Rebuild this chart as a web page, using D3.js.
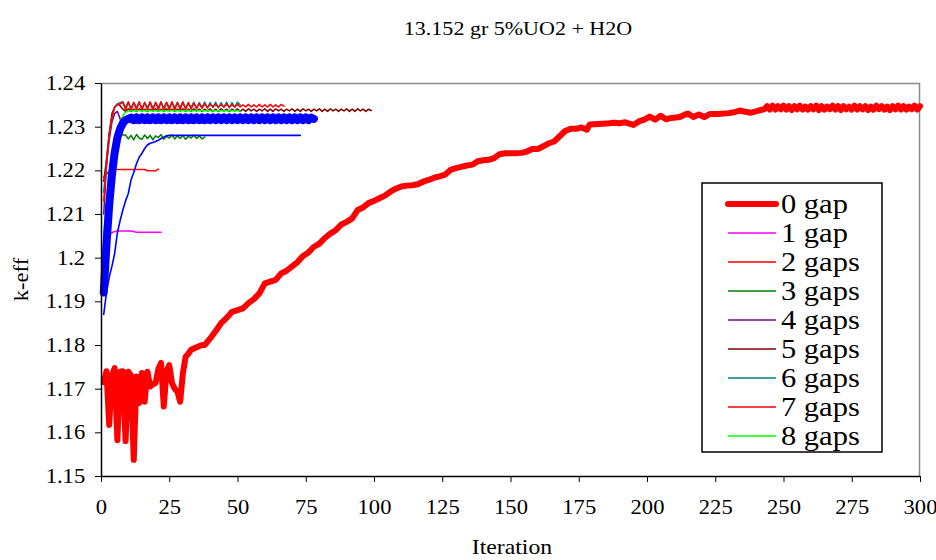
<!DOCTYPE html>
<html>
<head>
<meta charset="utf-8">
<script src="https://cdn.jsdelivr.net/npm/d3@7"></script>
<style>
  body { margin: 0; background: #fff; }
</style>
</head>
<body>
<svg width="936" height="560"></svg>
<script>
(() => {
  const serif = 'Liberation Serif';
  const stretch = 1.13; // the original's text is a little wider than plain Times
  const xTicks = [0, 25, 50, 75, 100, 125, 150, 175, 200, 225, 250, 275, 300];
  const yTicks = [1.15, 1.16, 1.17, 1.18, 1.19, 1.2, 1.21, 1.22, 1.23, 1.24];
  const yTickLabels = ['1.15', '1.16', '1.17', '1.18', '1.19', '1.2', '1.21', '1.22', '1.23', '1.24'];

  // 0 gap: [iteration, k-eff]
  const gap0 = [
    [1, 1.1715], [2, 1.1740], [3, 1.1617], [4, 1.1730], [5, 1.1747], [6, 1.1582], [7, 1.1739], [8, 1.1740],
    [9, 1.1580], [10, 1.1739], [11, 1.1730], [12, 1.1537], [13, 1.1728], [14, 1.1667], [15, 1.1736],
    [16, 1.1670], [17, 1.1739], [18, 1.1705], [19, 1.1710], [20, 1.1713], [21, 1.1745], [22, 1.1759],
    [23, 1.1659], [24, 1.1740], [25, 1.1754], [26, 1.1713], [27, 1.1700], [28, 1.1693], [29, 1.1670],
    [30, 1.1736], [31, 1.1773], [32, 1.1780], [33, 1.1789], [35, 1.1795], [37, 1.1800], [38, 1.1800],
    [40, 1.1815], [42, 1.1832], [44, 1.1850], [46, 1.1862], [48, 1.1876], [50, 1.1880], [52, 1.1884],
    [54, 1.1896], [56, 1.1905], [58, 1.1918], [60, 1.1941], [62, 1.1945], [64, 1.1949], [66, 1.1964],
    [68, 1.1970], [70, 1.1980], [72, 1.1990], [74, 1.2004], [76, 1.2012], [78, 1.2025], [80, 1.2032],
    [82, 1.2045], [84, 1.2055], [86, 1.2063], [88, 1.2076], [90, 1.2082], [92, 1.2090], [94, 1.2109],
    [96, 1.2115], [98, 1.2125], [100, 1.2130], [102, 1.2136], [104, 1.2142], [106, 1.2151], [108, 1.2158],
    [110, 1.2163], [112, 1.2165], [114, 1.2166], [116, 1.2168], [118, 1.2174], [120, 1.2178], [122, 1.2183],
    [124, 1.2186], [126, 1.2190], [128, 1.2201], [130, 1.2205], [132, 1.2208], [134, 1.2211], [136, 1.2213],
    [138, 1.2221], [140, 1.2223], [142, 1.2224], [144, 1.2228], [146, 1.2237], [148, 1.2239], [150, 1.2239],
    [152, 1.2239], [154, 1.2240], [156, 1.2243], [158, 1.2249], [160, 1.2249], [162, 1.2255], [164, 1.2262],
    [166, 1.2266], [168, 1.2278], [170, 1.2290], [172, 1.2295], [174, 1.2295], [176, 1.2298], [178, 1.2293],
    [179, 1.2305], [182, 1.2306], [185, 1.2307], [188, 1.2309], [190, 1.2308], [192, 1.2310], [195, 1.2304],
    [197, 1.2312], [199, 1.2316], [201, 1.2323], [203, 1.2316], [205, 1.2325], [207, 1.2317], [209, 1.2320],
    [212, 1.2322], [214, 1.2328], [215, 1.2330], [217, 1.2322], [219, 1.2328], [221, 1.2322], [223, 1.2329],
    [226, 1.2329], [228, 1.2330], [230, 1.2331], [232, 1.2333], [234, 1.2337], [236, 1.2334], [238, 1.2332],
    [240, 1.2335], [241, 1.2337], [243, 1.2340], [244, 1.2347],
    [245, 1.2339], [246, 1.2348], [247, 1.2339], [248, 1.2347], [249, 1.2340], [250, 1.2348], [251, 1.2339],
    [252, 1.2347], [253, 1.2338], [254, 1.2347], [255, 1.2340], [256, 1.2348], [257, 1.2339], [258, 1.2346],
    [259, 1.2339], [260, 1.2347], [261, 1.2340], [262, 1.2348], [263, 1.2338], [264, 1.2347], [265, 1.2339],
    [266, 1.2346], [267, 1.2340], [268, 1.2348], [269, 1.2339], [270, 1.2347], [271, 1.2338], [272, 1.2347],
    [273, 1.2340], [274, 1.2346], [275, 1.2339], [276, 1.2348], [277, 1.2339], [278, 1.2347], [279, 1.2340],
    [280, 1.2347], [281, 1.2338], [282, 1.2346], [283, 1.2339], [284, 1.2348], [285, 1.2340], [286, 1.2347],
    [287, 1.2339], [288, 1.2346], [289, 1.2338], [290, 1.2347], [291, 1.2340], [292, 1.2348], [293, 1.2339],
    [294, 1.2347], [295, 1.2339], [296, 1.2346], [297, 1.2340], [298, 1.2348], [299, 1.2339], [300, 1.2347]
  ];

  // the others: one value per iteration, starting at iteration 1
  const gap1 = [1.2040, 1.2047, 1.2052, 1.2057, 1.2060, 1.2061, 1.2061, 1.2061, 1.2061, 1.2061,
    1.2061, 1.2060, 1.2058, 1.2058, 1.2058, 1.2058, 1.2058, 1.2058, 1.2058, 1.2058, 1.2058, 1.2058];

  const gap2 = [1.2185, 1.2192, 1.2197, 1.2200, 1.2202, 1.2202, 1.2202, 1.2202, 1.2202, 1.2202,
    1.2202, 1.2202, 1.2202, 1.2202, 1.2202, 1.2202, 1.2199, 1.2199, 1.2199, 1.2199, 1.2203];

  const gap3 = [1.1915, 1.2030, 1.2130, 1.2200, 1.2255, 1.2280, 1.2281, 1.2281, 1.2281, 1.2272,
    1.2280, 1.2270, 1.2282, 1.2274, 1.2271, 1.2281, 1.2273, 1.2280, 1.2270, 1.2279,
    1.2275, 1.2282, 1.2271, 1.2278, 1.2274, 1.2281, 1.2272, 1.2279, 1.2273, 1.2280,
    1.2271, 1.2278, 1.2274, 1.2281, 1.2273, 1.2279, 1.2272, 1.2276];

  const gap4 = [1.2100, 1.2210, 1.2270, 1.2310, 1.2330, 1.2335, 1.2318, 1.2296, 1.2305, 1.2314,
    1.2309, 1.2313, 1.2308, 1.2314, 1.2309, 1.2313, 1.2308, 1.2313, 1.2309, 1.2314,
    1.2308, 1.2313, 1.2309, 1.2313, 1.2308, 1.2314, 1.2309, 1.2313, 1.2308, 1.2313,
    1.2309, 1.2314, 1.2308, 1.2313, 1.2309, 1.2313, 1.2308, 1.2314, 1.2309, 1.2312];

  const gap5 = [1.2175, 1.2225, 1.2285, 1.2330, 1.2345, 1.2352, 1.2348, 1.2340, 1.2335, 1.2341,
    1.2335, 1.2340, 1.2335, 1.2341, 1.2336, 1.2340, 1.2335, 1.2340, 1.2336, 1.2341,
    1.2335, 1.2340, 1.2335, 1.2341, 1.2336, 1.2340, 1.2335, 1.2340, 1.2336, 1.2341,
    1.2335, 1.2340, 1.2335, 1.2341, 1.2336, 1.2340, 1.2335, 1.2340, 1.2336, 1.2341,
    1.2335, 1.2340, 1.2335, 1.2341, 1.2336, 1.2340, 1.2335, 1.2340, 1.2336, 1.2341,
    1.2335, 1.2340, 1.2335, 1.2341, 1.2336, 1.2340, 1.2335, 1.2340, 1.2336, 1.2341,
    1.2335, 1.2340, 1.2335, 1.2341, 1.2336, 1.2340, 1.2335, 1.2340, 1.2336, 1.2341,
    1.2335, 1.2340, 1.2335, 1.2341, 1.2336, 1.2340, 1.2335, 1.2340, 1.2336, 1.2341,
    1.2335, 1.2340, 1.2335, 1.2341, 1.2336, 1.2340, 1.2335, 1.2340, 1.2336, 1.2341,
    1.2335, 1.2340, 1.2335, 1.2341, 1.2336, 1.2340, 1.2335, 1.2340, 1.2337];

  const gap6 = [1.2150, 1.2220, 1.2280, 1.2320, 1.2345, 1.2352, 1.2355, 1.2357, 1.2344, 1.2356,
    1.2343, 1.2355, 1.2344, 1.2356, 1.2343, 1.2355, 1.2344, 1.2356, 1.2343, 1.2355,
    1.2344, 1.2356, 1.2343, 1.2355, 1.2344, 1.2356, 1.2343, 1.2355, 1.2344, 1.2356,
    1.2343, 1.2355, 1.2344, 1.2356, 1.2343, 1.2355, 1.2344, 1.2356, 1.2343, 1.2355,
    1.2344, 1.2356, 1.2343, 1.2355, 1.2344, 1.2356, 1.2343, 1.2355, 1.2344, 1.2356, 1.2350];

  const gap7 = [1.2130, 1.2210, 1.2280, 1.2320, 1.2345, 1.2350, 1.2352, 1.2356, 1.2338, 1.2357,
    1.2337, 1.2356, 1.2338, 1.2357, 1.2337, 1.2356, 1.2338, 1.2357, 1.2337, 1.2356,
    1.2338, 1.2357, 1.2337, 1.2356, 1.2338, 1.2357, 1.2337, 1.2356, 1.2338, 1.2357,
    1.2339, 1.2355, 1.2340, 1.2354, 1.2341, 1.2353, 1.2342, 1.2352, 1.2343, 1.2351,
    1.2345, 1.2351, 1.2345, 1.2350, 1.2345, 1.2351, 1.2345, 1.2350, 1.2345, 1.2351,
    1.2345, 1.2350, 1.2345, 1.2351, 1.2345, 1.2350, 1.2345, 1.2351, 1.2345, 1.2350,
    1.2345, 1.2351, 1.2345, 1.2350, 1.2345, 1.2351, 1.2347];

  const gap8 = [1.2050, 1.2130, 1.2190, 1.2235, 1.2265, 1.2290, 1.2310, 1.2325, 1.2333, 1.2336,
    1.2336, 1.2337, 1.2336, 1.2337, 1.2336, 1.2337, 1.2336, 1.2337, 1.2336, 1.2337,
    1.2336, 1.2337, 1.2336, 1.2337, 1.2336, 1.2337, 1.2336, 1.2337, 1.2336, 1.2337,
    1.2336, 1.2337, 1.2336, 1.2337, 1.2336, 1.2337, 1.2336, 1.2337, 1.2336, 1.2337,
    1.2336, 1.2337, 1.2336, 1.2337, 1.2336, 1.2337, 1.2336, 1.2337, 1.2336, 1.2337, 1.2336];

  // two blue runs with no legend entry
  const gap9 = [1.1870, 1.1920, 1.1955, 1.1980, 1.2010, 1.2057, 1.2085, 1.2109, 1.2130, 1.2147,
    1.2178, 1.2195, 1.2215, 1.2230, 1.2239, 1.2250, 1.2258, 1.2262, 1.2264, 1.2266,
    1.2269, 1.2273, 1.2276, 1.2279, 1.2280, 1.2280, 1.2280, 1.2280, 1.2280, 1.2280,
    1.2280, 1.2280, 1.2280, 1.2280, 1.2280, 1.2280, 1.2280, 1.2280, 1.2280, 1.2280,
    1.2280, 1.2280, 1.2280, 1.2280, 1.2280, 1.2280, 1.2280, 1.2280, 1.2280, 1.2280,
    1.2280, 1.2280, 1.2280, 1.2280, 1.2280, 1.2280, 1.2280, 1.2280, 1.2280, 1.2280,
    1.2280, 1.2280, 1.2280, 1.2280, 1.2280, 1.2280, 1.2280, 1.2280, 1.2280, 1.2280,
    1.2280, 1.2280, 1.2280];

  const gap10 = [1.1920, 1.2030, 1.2120, 1.2190, 1.2240, 1.2275, 1.2295, 1.2308, 1.2315, 1.2318,
    1.2321, 1.2315, 1.2321, 1.2315, 1.2321, 1.2315, 1.2321, 1.2315, 1.2321, 1.2315,
    1.2321, 1.2315, 1.2321, 1.2315, 1.2321, 1.2315, 1.2321, 1.2315, 1.2321, 1.2315,
    1.2321, 1.2315, 1.2321, 1.2315, 1.2321, 1.2315, 1.2321, 1.2315, 1.2321, 1.2315,
    1.2321, 1.2315, 1.2321, 1.2315, 1.2321, 1.2315, 1.2321, 1.2315, 1.2321, 1.2315,
    1.2321, 1.2315, 1.2321, 1.2315, 1.2321, 1.2315, 1.2321, 1.2315, 1.2321, 1.2315,
    1.2321, 1.2315, 1.2321, 1.2315, 1.2321, 1.2315, 1.2321, 1.2315, 1.2321, 1.2315,
    1.2321, 1.2315, 1.2321, 1.2315, 1.2321, 1.2315, 1.2321, 1.2318];

  const legendLabels = ['0 gap', '1 gap', '2 gaps', '3 gaps', '4 gaps', '5 gaps', '6 gaps', '7 gaps', '8 gaps'];
  const seriesColors = ['#ff0000', '#ff00ff', '#ff0000', '#008000', '#800080', '#800000', '#008080', '#ff0000', '#00ff00', '#0000ff', '#0000ff'];
  const seriesWidths = [6, 1.5, 1.5, 1.5, 1.5, 1.5, 1.5, 1.5, 1.5, 1.6, 8];

  const margins = {top: 83, right: 16, bottom: 84, left: 101};
  const svg = d3.select('svg');
  const width = +svg.attr('width') - margins.left - margins.right;
  const height = +svg.attr('height') - margins.top - margins.bottom;

  const x = d3.scaleLinear().domain([0, 300]).range([0, width]);
  const y = d3.scaleLinear().domain([1.15, 1.24]).range([height, 0]);

  const g = svg.append('g').attr('transform', 'translate(' + margins.left + ',' + margins.top + ')');

  const toPoints = (values) => values.map((v, i) => [i + 1, v]);
  const allSeries = [gap0, toPoints(gap1), toPoints(gap2), toPoints(gap3), toPoints(gap4), toPoints(gap5),
    toPoints(gap6), toPoints(gap7), toPoints(gap8), toPoints(gap9), toPoints(gap10)];

  const line = d3.line().x(d => x(d[0])).y(d => y(d[1]));

  // frame: grey top and right edges
  g.append('path')
    .attr('d', 'M0,0.5H' + (width - 0.5) + 'V' + height)
    .attr('fill', 'none')
    .attr('stroke', '#8c8c8c')
    .attr('stroke-width', 1.5);

  allSeries.forEach((pts, i) => {
    g.append('path')
      .datum(pts)
      .attr('d', line)
      .attr('fill', 'none')
      .attr('stroke', seriesColors[i])
      .attr('stroke-width', seriesWidths[i])
      .attr('stroke-linejoin', 'round')
      .attr('stroke-linecap', 'round');
  });

  const styleAxis = (a) => {
    a.attr('font-family', serif).attr('font-size', 20);
    a.select('.domain').attr('stroke', '#000').attr('stroke-width', 1.5);
    a.selectAll('.tick line').attr('stroke', '#000');
    a.selectAll('.tick text')
      .attr('fill', '#000')
      .attr('transform', 'scale(' + stretch + ',1)');
  };

  g.append('g')
    .attr('transform', 'translate(0,' + height + ')')
    .call(d3.axisBottom(x).tickValues(xTicks).tickSize(6).tickSizeOuter(0).tickPadding(18).tickFormat(d3.format('d')))
    .call(styleAxis);

  g.append('g')
    .call(d3.axisLeft(y).tickValues(yTicks).tickSize(6).tickSizeOuter(0).tickPadding(8)
      .tickFormat((d, i) => yTickLabels[i]))
    .call(styleAxis);

  // title and axis labels
  svg.append('text')
    .attr('transform', 'translate(518,35) scale(' + stretch + ',1)')
    .attr('text-anchor', 'middle')
    .attr('font-family', serif)
    .attr('font-size', 19.5)
    .text('13.152 gr 5%UO2 + H2O');

  svg.append('text')
    .attr('transform', 'translate(512,554) scale(' + stretch + ',1)')
    .attr('text-anchor', 'middle')
    .attr('font-family', serif)
    .attr('font-size', 21)
    .text('Iteration');

  svg.append('text')
    .attr('transform', 'translate(28,' + (margins.top + height / 2) + ') rotate(-90) scale(' + stretch + ',1)')
    .attr('text-anchor', 'middle')
    .attr('font-family', serif)
    .attr('font-size', 20)
    .text('k-eff');

  // legend
  const legend = svg.append('g').attr('transform', 'translate(702,183)');
  legend.append('rect')
    .attr('width', 180).attr('height', 269)
    .attr('fill', '#fff').attr('stroke', '#000').attr('stroke-width', 1.5);

  legendLabels.forEach((label, i) => {
    const row = legend.append('g').attr('transform', 'translate(0,' + (21 + i * 29) + ')');
    row.append('line')
      .attr('x1', 26).attr('x2', 74)
      .attr('stroke', seriesColors[i])
      .attr('stroke-width', seriesWidths[i])
      .attr('stroke-linecap', i === 0 ? 'round' : 'butt');
    row.append('text')
      .attr('transform', 'translate(79,9) scale(' + stretch + ',1)')
      .attr('font-family', serif)
      .attr('font-size', 27)
      .text(label);
  });
})();
</script>
</body>
</html>
